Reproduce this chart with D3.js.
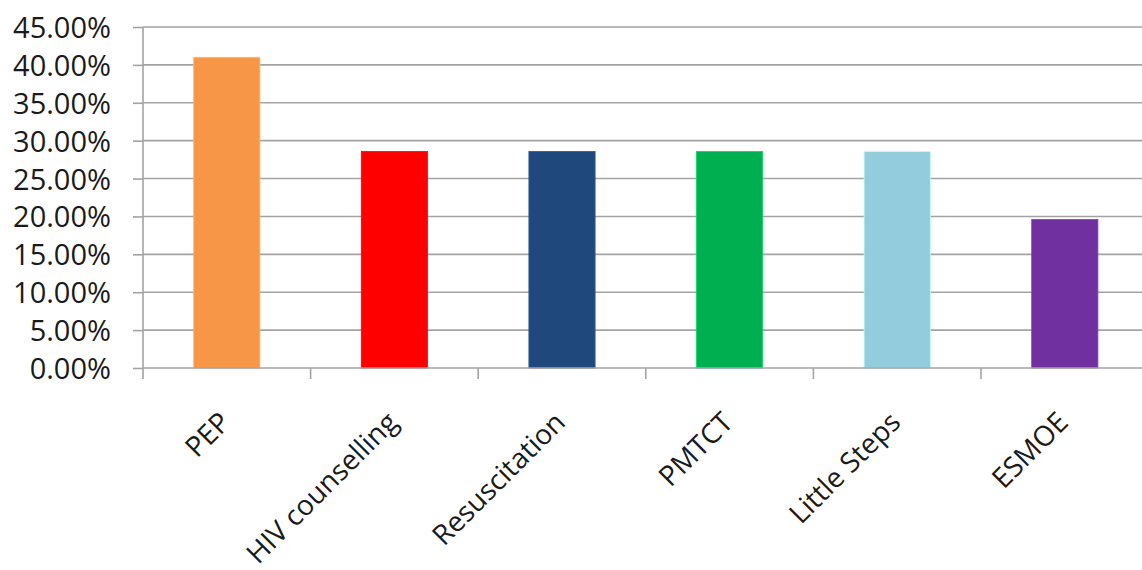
<!DOCTYPE html>
<html><head><meta charset="utf-8">
<script src="https://cdn.jsdelivr.net/npm/d3@7"></script>
<style>
html,body{margin:0;padding:0;background:#fff;}
svg{display:block;}
text{font-family:"Open Sans",sans-serif;fill:#1a1a1a;}
</style></head>
<body>
<svg id="chart" width="1142" height="570"></svg>
<script>
const categories = ["PEP","HIV counselling","Resuscitation","PMTCT","Little Steps","ESMOE"];
const values = [0.41, 0.2857, 0.2857, 0.2857, 0.2857, 0.196];
const colors = ["#F79646","#FF0000","#1F497D","#00B050","#93CDDD","#7030A0"];
const yTicks = [0,0.05,0.10,0.15,0.20,0.25,0.30,0.35,0.40,0.45];

const svg = d3.select("#chart");
const mLeft = 143, mRight = 1148.6, mTop = 27, mBottom = 368;

const x = d3.scaleBand().domain(categories).range([mLeft, mRight]).paddingInner(0).paddingOuter(0);
const y = d3.scaleLinear().domain([0, 0.45]).range([mBottom, mTop]);
const gridColor = "#a3a3a3";

// gridlines
svg.append("g").selectAll("line").data(yTicks.slice(1)).join("line")
  .attr("x1", mLeft).attr("x2", 1142)
  .attr("y1", d => y(d)).attr("y2", d => y(d))
  .attr("stroke", gridColor).attr("stroke-width", 1.6);

// bars
const bw = x.bandwidth() * 0.395;
svg.append("g").selectAll("rect").data(categories).join("rect")
  .attr("x", d => x(d) + x.bandwidth()/2 - bw/2)
  .attr("y", (d,i) => y(values[i]))
  .attr("width", bw)
  .attr("height", (d,i) => y(0) - y(values[i]))
  .attr("fill", (d,i) => colors[i])
  .attr("stroke", (d,i) => d3.color(colors[i]).brighter(0.6))
  .attr("stroke-width", 0.8);

// y axis
const yAxis = d3.axisLeft(y).tickValues(yTicks).tickSize(10).tickPadding(22)
  .tickFormat(d => (d*100).toFixed(2) + "%");
const gy = svg.append("g").attr("transform", `translate(${mLeft},0)`).call(yAxis);
gy.select(".domain").remove();
gy.selectAll(".tick line").attr("stroke", gridColor).attr("stroke-width", 1.6);
gy.selectAll(".tick text").attr("font-size", 29).attr("dy", "0.36em").attr("fill", "#1a1a1a");
svg.append("line").attr("x1", mLeft).attr("x2", mLeft).attr("y1", mTop).attr("y2", mBottom + 11)
  .attr("stroke", gridColor).attr("stroke-width", 1.6);

// x axis
const xAxis = d3.axisBottom(x).tickSize(0).tickFormat("");
const gx = svg.append("g").attr("transform", `translate(0,${mBottom})`).call(xAxis);
gx.select(".domain").remove();
svg.append("line").attr("x1", mLeft).attr("x2", 1142).attr("y1", mBottom).attr("y2", mBottom)
  .attr("stroke", gridColor).attr("stroke-width", 1.6);
const tickPos = categories.map(c => x(c) + x.bandwidth());
svg.append("g").selectAll("line").data(tickPos).join("line")
  .attr("x1", d => d).attr("x2", d => d).attr("y1", mBottom).attr("y2", mBottom + 11)
  .attr("stroke", gridColor).attr("stroke-width", 1.6);

// x labels
svg.append("g").selectAll("text").data(categories).join("text")
  .attr("transform", d => `translate(${x(d) + x.bandwidth()/2 + 5},${mBottom + 56}) rotate(-45)`)
  .attr("text-anchor", "end")
  .attr("font-size", 28)
  .text(d => d);
</script>
</body></html>
